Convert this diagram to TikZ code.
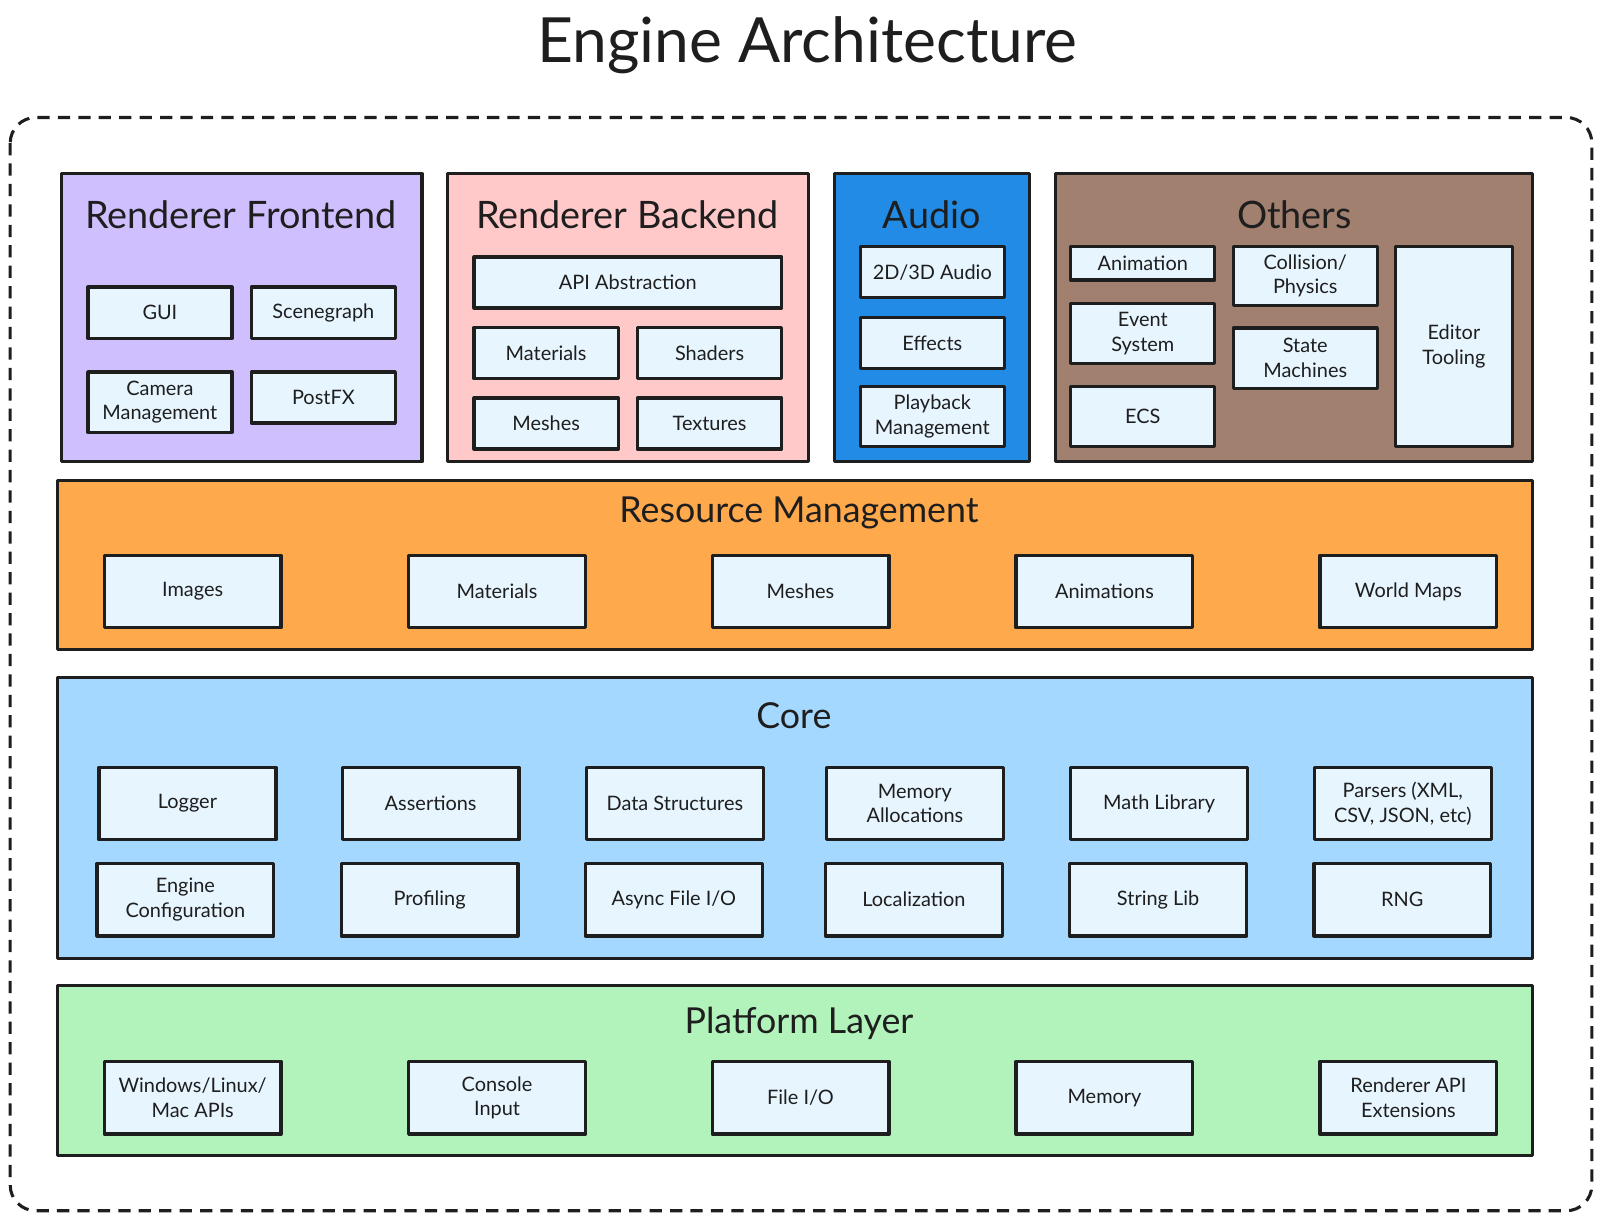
\documentclass[tikz,border=0pt]{standalone}
\usepackage{fontspec}
\setmainfont{Lato}
\usepackage{xcolor}
\definecolor{ink}{HTML}{1E1E1E}
\definecolor{violetfill}{HTML}{D0BFFF}
\definecolor{pinkfill}{HTML}{FFC9C9}
\definecolor{bluefill}{HTML}{228BE6}
\definecolor{brownfill}{HTML}{A2806F}
\definecolor{orangefill}{HTML}{FFA94D}
\definecolor{skyfill}{HTML}{A5D8FF}
\definecolor{greenfill}{HTML}{B2F2BB}
\definecolor{itemfill}{HTML}{E7F5FF}

\begin{document}
\begin{tikzpicture}[x=1pt, y=-1pt,
        group/.style={draw=ink, line width=3pt, line join=round},
        grouptitle/.style={text=ink, font=\fontsize{37}{43}\selectfont, inner sep=0pt},
        layertitle/.style={grouptitle, font=\fontsize{35}{41}\selectfont},
        item/.style={draw=ink, fill=itemfill, line width=3.2pt, line join=round,
            text=ink, align=center, inner sep=2pt, font=\fontsize{19.5}{24}\selectfont},
        smallitem/.style={item, minimum width=141, minimum height=50},
        wideitem/.style={item, minimum width=173, minimum height=71}]
        \useasboundingbox (0, 0) rectangle (1566, 1191);
        % \draw[style=help lines, step=100] (0, 0) grid (1566, 1191);
        \node[text=ink, font=\fontsize{61}{66}\selectfont, inner sep=0pt] (title) at (790, 44) {Engine Architecture};
        \draw[ink, line width=3pt, dash pattern=on 12pt off 8pt, rounded corners=25pt]
            (10, 115) rectangle (1558, 1185);
        % top row
        \filldraw[group, fill=violetfill] (60, 170) rectangle (413, 452);
        \filldraw[group, fill=pinkfill] (438, 170) rectangle (791, 452);
        \filldraw[group, fill=bluefill] (817, 170) rectangle (1008, 452);
        \filldraw[group, fill=brownfill] (1033, 170) rectangle (1500, 452);
        \node[grouptitle] (frontend) at (236, 210) {Renderer Frontend};
        \node[grouptitle] (backend) at (614, 210) {Renderer Backend};
        \node[grouptitle] (audio) at (912, 210) {Audio};
        \node[grouptitle] (others) at (1267, 210) {Others};
        \node[smallitem] (gui) at (156.5, 306) {GUI};
        \node[smallitem] (scenegraph) at (316.5, 306) {Scenegraph};
        \node[smallitem, minimum height=59] (camera) at (156.5, 393.5) {Camera\\Management};
        \node[smallitem] (postfx) at (316.5, 389) {PostFX};
        \node[smallitem, minimum width=301] (api) at (614.5, 276.5) {API Abstraction};
        \node[smallitem] (materials) at (534.5, 345.5) {Materials};
        \node[smallitem] (shaders) at (694.5, 345.5) {Shaders};
        \node[smallitem] (meshes) at (534.5, 414.5) {Meshes};
        \node[smallitem] (textures) at (694.5, 414.5) {Textures};
        \node[smallitem] (spatial) at (912.5, 266.5) {2D/3D Audio};
        \node[smallitem] (effects) at (912.5, 335.5) {Effects};
        \node[smallitem, minimum height=59] (playback) at (912.5, 407.5) {Playback\\Management};
        \node[smallitem, minimum height=33] (animation) at (1118.5, 257.5) {Animation};
        \node[smallitem, minimum height=58] (collision) at (1277.5, 270) {Collision/\\Physics};
        \node[smallitem, minimum height=59] (event) at (1118.5, 326.5) {Event\\System};
        \node[smallitem, minimum height=59] (state) at (1277.5, 350.5) {State\\Machines};
        \node[smallitem, minimum height=59] (ecs) at (1118.5, 407.5) {ECS};
        \node[smallitem, minimum width=114, minimum height=196] (editor) at (1423, 339) {Editor\\Tooling};
        % resource management
        \filldraw[group, fill=orangefill] (56, 470) rectangle (1500, 636);
        \node[layertitle] (resources) at (782, 502) {Resource Management};
        \node[wideitem] (images) at (188.5, 579) {Images};
        \node[wideitem] (resmaterials) at (486.5, 579) {Materials};
        \node[wideitem] (resmeshes) at (783.5, 579) {Meshes};
        \node[wideitem] (animations) at (1081, 579) {Animations};
        \node[wideitem] (worldmaps) at (1378.5, 579) {World Maps};
        % core
        \filldraw[group, fill=skyfill] (56, 663) rectangle (1500, 938);
        \node[layertitle] (core) at (777, 700) {Core};
        \node[wideitem] (logger) at (183.5, 786.5) {Logger};
        \node[wideitem] (assertions) at (421.5, 786.5) {Assertions};
        \node[wideitem] (datastructures) at (660.5, 786.5) {Data Structures};
        \node[wideitem] (memalloc) at (895.5, 786.5) {Memory\\Allocations};
        \node[wideitem] (mathlib) at (1134.5, 786.5) {Math Library};
        \node[wideitem] (parsers) at (1373, 786.5) {Parsers (XML,\\CSV, JSON, etc)};
        \node[wideitem] (config) at (181.5, 880.5) {Engine\\Configuration};
        \node[wideitem] (profiling) at (420.5, 880.5) {Profiling};
        \node[wideitem] (asyncio) at (659.5, 880.5) {Async File I/O};
        \node[wideitem] (localization) at (894.5, 880.5) {Localization};
        \node[wideitem] (stringlib) at (1133.5, 880.5) {String Lib};
        \node[wideitem] (rng) at (1372.5, 880.5) {RNG};
        % platform layer
        \filldraw[group, fill=greenfill] (56, 965) rectangle (1500, 1131);
        \node[layertitle] (platform) at (782, 1002) {Platform Layer};
        \node[wideitem] (osapis) at (188.5, 1074.5) {Windows/Linux/\\Mac APIs};
        \node[wideitem] (console) at (486.5, 1074.5) {Console\\Input};
        \node[wideitem] (fileio) at (783.5, 1074.5) {File I/O};
        \node[wideitem] (memory) at (1081, 1074.5) {Memory};
        \node[wideitem] (rendererext) at (1378.5, 1074.5) {Renderer API\\Extensions};
    \end{tikzpicture}
\end{document}
